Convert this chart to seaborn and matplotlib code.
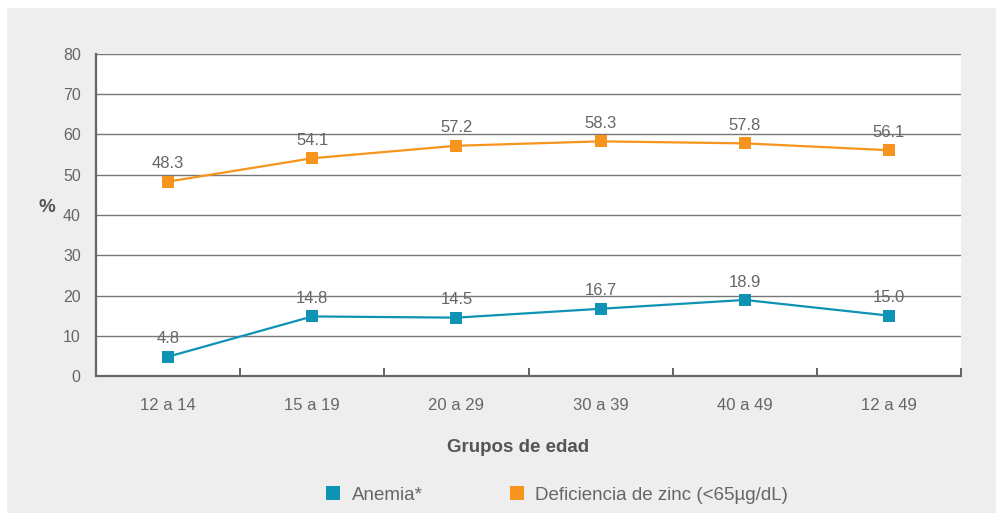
import matplotlib
matplotlib.use("Agg")
import matplotlib.pyplot as plt
from matplotlib.patches import Rectangle
from matplotlib.lines import Line2D
import seaborn as sns
import pandas as pd

# Age groups and prevalence (%)
grupos = ["12 a 14", "15 a 19", "20 a 29", "30 a 39", "40 a 49", "12 a 49"]
anemia = [4.8, 14.8, 14.5, 16.7, 18.9, 15.0]
zinc = [48.3, 54.1, 57.2, 58.3, 57.8, 56.1]
series_names = ["Anemia*", "Deficiencia de zinc (<65\u00b5g/dL)"]
colors = ["#0f93b5", "#f7941d"]
y_ticks = [0, 10, 20, 30, 40, 50, 60, 70, 80]

sns.set_theme(style="white")
plt.rcParams["font.family"] = ["Liberation Sans", "DejaVu Sans"]
TXT = "#666666"

df = pd.concat([
    pd.DataFrame({"grupo": grupos, "valor": anemia, "serie": series_names[0]}),
    pd.DataFrame({"grupo": grupos, "valor": zinc, "serie": series_names[1]}),
])
df["x"] = df["grupo"].map({g: i for i, g in enumerate(grupos)})

fig = plt.figure(figsize=(9.96, 5.13), dpi=100)
fig.patch.set_facecolor("white")
fig.patches.append(Rectangle((7 / 996, 0), 1, 1 - 8 / 513, transform=fig.transFigure,
                             facecolor="#eeeeee", edgecolor="none", zorder=-10))

ax = fig.add_axes([96 / 996, 1 - 376 / 513, (961 - 96) / 996, (376 - 54) / 513])
ax.set_facecolor("white")

sns.lineplot(data=df, x="x", y="valor", hue="serie", palette=colors,
             marker="s", markersize=9, markeredgewidth=0, linewidth=1.6,
             sort=False, legend=False, ax=ax, zorder=3)

# value labels above each marker
for vals in (anemia, zinc):
    for i, v in enumerate(vals):
        ax.annotate(f"{v:.1f}", (i, v), xytext=(0, 7.5), textcoords="offset points",
                    ha="center", va="bottom", fontsize=12, color=TXT, zorder=4)

ax.set_xlim(-0.5, 5.5)
ax.set_ylim(0, 80)
ax.set_yticks(y_ticks)
ax.set_yticklabels([str(t) for t in y_ticks])
ax.set_xticks(range(len(grupos)))
ax.set_xticklabels(grupos)
ax.set_xticks([i + 0.5 for i in range(len(grupos))], minor=True)

for y in y_ticks[1:]:
    ax.axhline(y, color="#777777", linewidth=1.0, zorder=1)

ax.tick_params(axis="y", length=0, pad=11, labelsize=11.5, labelcolor=TXT)
ax.tick_params(axis="x", which="major", length=0, pad=16, labelsize=12, labelcolor=TXT)
ax.tick_params(axis="x", which="minor", direction="in", length=6, width=1.3,
               color="#555555", bottom=True)

for side in ("top", "right"):
    ax.spines[side].set_visible(False)
for side in ("left", "bottom"):
    ax.spines[side].set_color("#666666")
    ax.spines[side].set_linewidth(1.6)

ax.set_xlabel("")
ax.set_ylabel("")
fig.text(47 / 996, 1 - 208 / 513, "%", fontsize=13.5, fontweight="bold", color="#555555",
         ha="center", va="center")
fig.text(518 / 996, 1 - 448 / 513, "Grupos de edad", fontsize=13.5, fontweight="bold",
         color="#555555", ha="center", va="center")

handles = [Line2D([], [], marker="s", linestyle="none", markersize=10,
                  markeredgewidth=0, color=c) for c in colors]
fig.legend(handles, series_names, loc="center", ncol=2, frameon=False,
           bbox_to_anchor=(556 / 996, 1 - 495 / 513), fontsize=13.5,
           labelcolor=TXT, handletextpad=0.5, columnspacing=4.5, handlelength=1.0)

fig.savefig("out.png", dpi=100)
